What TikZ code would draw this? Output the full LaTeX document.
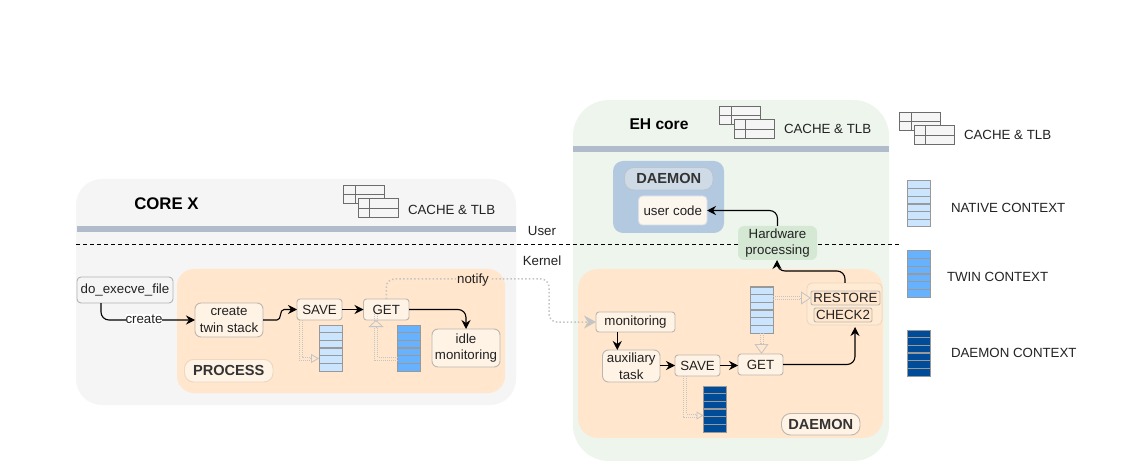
\documentclass[tikz,border=0pt]{standalone}
\usepackage{fontspec}
\setmainfont{Liberation Sans}
\usetikzlibrary{arrows.meta}
\definecolor{panelgray}{HTML}{F5F5F5}
\definecolor{panelgreen}{HTML}{EDF5ED}
\definecolor{barcol}{HTML}{B0BCCB}
\definecolor{orangebg}{HTML}{FFE6CC}
\definecolor{boxfill}{HTML}{FFF3E6}
\definecolor{boxline}{HTML}{BBB7B0}
\definecolor{bluepanel}{HTML}{B3C9E0}
\definecolor{pillblue}{HTML}{CFDAE7}
\definecolor{hwgreen}{HTML}{D5E8D4}
\definecolor{native}{HTML}{CCE5FF}
\definecolor{twin}{HTML}{66B2FF}
\definecolor{daemonctx}{HTML}{004C99}
\definecolor{hollowcol}{HTML}{C4C4C4}
\definecolor{stackline}{HTML}{999999}
\definecolor{txt}{HTML}{222222}
\definecolor{ucfill}{HTML}{FBF6EE}
\newcommand{\mybox}[7]{%
  \node[#1,minimum width={(#5)-(#3)},minimum height={(#6)-(#4)}] (#2) at ({((#3)+(#5))/2},{((#4)+(#6))/2}) {#7};}
\newcommand{\ctxstack}[4]{% name, x0, y0, colour
  \node[draw=stackline,line width=1pt,fill=#4,inner sep=0,outer sep=0,minimum width=23pt,minimum height=46pt] (#1) at ({#2+11.5},{#3+23}) {};
  \foreach \k in {1,...,5}{\draw[stackline,line width=1.1pt] ({#2},{#3+\k*46/6}) -- ({#2+23},{#3+\k*46/6});}}
\newcommand{\cachetlb}[2]{%
  \begin{scope}[shift={(#1,#2)},draw=gray!85!black,line width=1pt]
    \draw[fill=panelgray] (343,186) rectangle (384,204);
    \draw (355,186) -- (355,204) (343,195) -- (384,195);
    \draw[fill=panelgray] (358,199) rectangle (398,218);
    \draw (369,199) -- (369,218) (358,209) -- (398,209);
  \end{scope}}
\tikzset{
  lbl/.style={font=\fontsize{13.3}{16.6}\selectfont,text=txt,align=center,inner sep=0pt,outer sep=0pt},
  tbox/.style={lbl,draw=boxline,fill=boxfill,line width=.9pt,rounded corners=3pt},
  rbox/.style={lbl,draw=boxline,fill=boxfill,line width=.9pt,rounded corners=6pt},
  pill/.style={lbl,font=\fontsize{14.6}{17}\selectfont\bfseries,text=black!80,rounded corners=9pt,line width=.9pt},
  flow/.style={draw=black,line width=1.1pt,rounded corners=8pt,-{Stealth[length=9pt,width=9pt]}},
  hdot/.style={draw=hollowcol,line width=.8pt,dash pattern=on 1pt off 1pt},
  hollowtip/.style n args={2}{draw=hollowcol,line width=.8pt,
    -{Triangle[open,fill=orangebg,length=#1,width=#2,line width=.8pt,sep=0pt]}},
  notifyline/.style={draw=hollowcol,line width=1.5pt,dash pattern=on 1.5pt off 2.2pt,rounded corners=8pt,
    -{Stealth[length=12pt,width=13pt]}},
}
\begin{document}
\begin{tikzpicture}[x=1pt,y=-1pt]
\useasboundingbox (0,0) rectangle (1141,473);
\fill[white] (0,0) rectangle (1141,473);
% panels
\fill[panelgray,rounded corners=26pt] (76,179) rectangle (516,405);
\fill[panelgreen,rounded corners=36pt] (573,100) rectangle (889,461);
\fill[barcol] (77,226) rectangle (516,232);
\fill[barcol] (573,146) rectangle (889,152);
\fill[orangebg,rounded corners=17pt] (177,269) rectangle (505,393);
\fill[orangebg,rounded corners=20pt] (578,269) rectangle (883,438);
\fill[bluepanel,rounded corners=10pt] (613,161) rectangle (724,233);
% user/kernel line
\coordinate (dashL) at (76,244.7);
\coordinate (dashR) at (900,244.7);
\draw[black,line width=.9pt,dash pattern=on 4pt off 3pt] (dashL) -- (dashR);
% cache groups
\cachetlb{0}{0}
\cachetlb{376}{-79}
\cachetlb{556}{-73}
% titles
\node[lbl,font=\fontsize{16.8}{18}\selectfont\bfseries,text=black] (corex) at (166.5,204) {CORE X};
\node[lbl,font=\fontsize{15.6}{18}\selectfont\bfseries,text=black] (ehcore) at (659,124) {EH core};
\node[lbl,anchor=west] (c1) at (408,209.7) {CACHE \& TLB};
\node[lbl,anchor=west] (c2) at (784,128.7) {CACHE \& TLB};
\node[lbl,anchor=west] (c3) at (964,134.7) {CACHE \& TLB};
\node[lbl] (user) at (542,230.8) {User};
\node[lbl] (kernel) at (542,260.5) {Kernel};
% stacks
\ctxstack{st1}{319}{325}{native}
\ctxstack{st2}{397.5}{325}{twin}
\ctxstack{st3}{750}{287}{native}
\ctxstack{st4}{703.5}{386}{daemonctx}
\ctxstack{ln}{907.5}{181}{native}
\ctxstack{lt}{907.5}{251}{twin}
\ctxstack{ld}{907.5}{330}{daemonctx}
\node[lbl,anchor=west] (tn) at (951,207.7) {NATIVE CONTEXT};
\node[lbl,anchor=west] (tt) at (947,276.7) {TWIN CONTEXT};
\node[lbl,anchor=west] (td) at (951,352.7) {DAEMON CONTEXT};
% boxes, left
\mybox{tbox,fill=panelgray,draw=gray!60,rounded corners=4pt}{exec}{77}{277}{173}{303}{do\_execve\_file}
\mybox{rbox}{tw}{195}{303}{263}{337}{create\\twin stack}
\mybox{tbox}{save}{297}{299}{342}{320}{SAVE}
\mybox{tbox}{get}{363.5}{299}{409}{320}{GET}
\mybox{rbox}{idle}{432}{329}{500}{367}{idle\\monitoring}
\mybox{pill,fill=boxfill,draw=orangebg!85!gray}{proc}{184.5}{359.5}{273}{382}{PROCESS}
% boxes, right
\mybox{tbox,rounded corners=5pt,draw=orangebg!85!gray,fill=orangebg!70!boxfill}{grp}{807}{283}{882}{325}{}
\mybox{tbox,rounded corners=2pt,fill=orangebg}{rest}{811}{291}{880}{305}{RESTORE}
\mybox{tbox,rounded corners=2pt,fill=orangebg}{chk}{814}{308}{872}{322}{CHECK2}
\mybox{tbox}{mon}{596}{312}{675}{332}{monitoring}
\mybox{rbox}{aux}{602.5}{350}{660}{382}{auxiliary\\task}
\mybox{tbox}{save2}{675}{355}{720}{376}{SAVE}
\mybox{tbox}{get2}{738}{354}{783}{375}{GET}
\mybox{pill,fill=boxfill,draw=boxline}{dae}{781.5}{413.5}{860}{435}{DAEMON}
\mybox{pill,fill=pillblue,draw=pillblue!90!black}{dae2}{624.5}{167.5}{713}{190}{DAEMON}
\mybox{tbox,fill=ucfill,draw=pillblue!80!boxfill,rounded corners=4pt}{uc}{638.5}{196}{707}{225}{user code}
\mybox{lbl,fill=hwgreen,rounded corners=6pt}{hw}{738}{226}{817}{260}{Hardware\\processing}
% flows
\draw[flow] ([xshift=24pt]exec.south west) |- (tw.west);
\node[lbl,fill=white,inner ysep=1pt] (lcreate) at (144,319) {create};
\draw[flow,sharp corners] (tw.east) -- ++(14,0) to[out=0,in=180] ++(7,-10.5) -- (save.west);
\draw[flow] (save) -- (get);
\draw[flow] (get.east) -| (idle.north);
\draw[flow] (mon.south -| aux.north) ++(-14,0) -- ++(0,18);
\draw[flow] (aux.east |- save2.west) -- (save2.west);
\draw[flow] (save2.east) -- (get2.west |- save2.east);
\coordinate (chkin) at (855,327);
\draw[flow] (get2.east) -| (chkin);
\coordinate (hwin) at (777,260);
\draw[flow] ([xshift=38pt]grp.north west) |- ++(-68,-12) -- (hwin);
\draw[flow] (hw.north) |- (uc.east);
% hollow flows
\draw[hdot] ([xshift=2pt]save.south west) |- ([xshift=-7pt,yshift=-12pt]st1.west);
\draw[hdot] ([xshift=5pt]save.south west) |- ([xshift=-7pt,yshift=-9pt]st1.west);
\draw[hollowtip={8pt}{9pt}] ([xshift=-9pt,yshift=-10.5pt]st1.west) -- ([yshift=-10.5pt]st1.west);
\draw[hdot] ([yshift=-12pt]st2.west) -| ([xshift=11pt,yshift=6pt]get.south west);
\draw[hdot] ([yshift=-9pt]st2.west) -| ([xshift=14pt,yshift=6pt]get.south west);
\draw[hollowtip={7pt}{15pt}] ([xshift=12.5pt,yshift=-8pt]get.south west) -- ([xshift=12.5pt]get.south west);
\draw[hdot] ([yshift=1.5pt]st3.east |- rest.west) -- ([xshift=-9pt,yshift=1.5pt]rest.west);
\draw[hdot] ([yshift=-1.5pt]st3.east |- rest.west) -- ([xshift=-9pt,yshift=-1.5pt]rest.west);
\draw[hollowtip={10pt}{13pt}] ([xshift=-11pt]rest.west) -- (rest.west);
\draw[hdot] ([xshift=-1.5pt]st3.south) -- ([xshift=-1.5pt,yshift=9pt]st3.south |- get2.north);
\draw[hdot] ([xshift=1.5pt]st3.south) -- ([xshift=1.5pt,yshift=9pt]st3.south |- get2.north);
\draw[hollowtip={10pt}{14pt}] ([yshift=11pt]st3.south |- get2.north) -- (st3.south |- get2.north);
\draw[hdot] ([xshift=8pt]save2.south west) |- ([xshift=-6pt,yshift=-8pt]st4.west);
\draw[hdot] ([xshift=11.5pt]save2.south west) |- ([xshift=-6pt,yshift=-5pt]st4.west);
\draw[hollowtip={7pt}{8pt}] ([xshift=-8pt,yshift=-6.5pt]st4.west) -- ([yshift=-6.5pt]st4.west);
% notify
\coordinate (nbend) at (549,279);
\draw[notifyline] (get.north) |- (nbend) |- (mon.west);
\node[lbl,fill=orangebg,inner xsep=1pt] (notify) at (473,280.5) {notify};
\end{tikzpicture}
\end{document}
